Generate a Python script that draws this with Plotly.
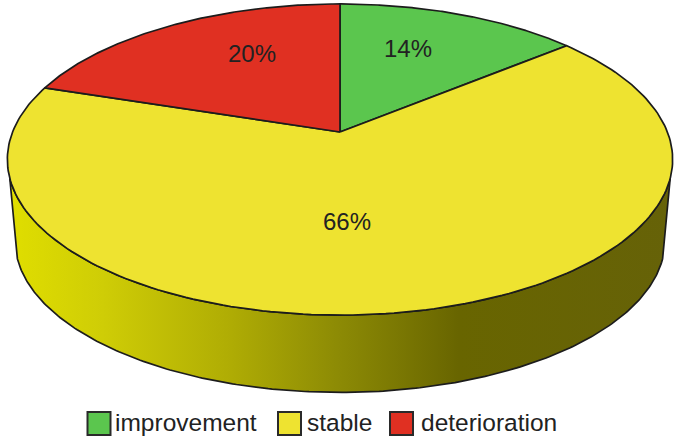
import numpy as np
import plotly.graph_objects as go

categories = ["improvement", "stable", "deterioration"]
values = [14, 66, 20]
slice_colors = ["#5bc64e", "#eee330", "#e03022"]

# side wall shading, left to right
wall_colors = [[0, "#e0de00"], [0.14, "#cfcd06"], [0.33, "#b0ad04"], [0.5, "#8c8a05"],
               [0.68, "#686500"], [1, "#666208"]]

W, H = 685, 437
APEX_X, APEX_Y = 340, 132
RX, RY, PERSP = 327.4, 150.7, 0.177
WALL_DROP, WALL_SCALE = 81.5, 0.977
WALL_ANGLE = 107
LINE = "#1c1c1c"


def rim(deg, scale=1.0, drop=0.0):
    # circle seen in perspective, angle runs clockwise from the top
    t = np.radians(deg)
    d = 1 + PERSP * np.cos(t)
    return (APEX_X + scale * RX * np.sin(t) / d,
            APEX_Y + drop + scale * (-RY) * np.cos(t) / d)


fig = go.Figure()

# side wall
a = np.linspace(WALL_ANGLE, 360 - WALL_ANGLE, 240)
x_top, y_top = rim(a)
x_bot, y_bot = rim(a[::-1], WALL_SCALE, WALL_DROP)
fig.add_trace(go.Scatter(
    x=np.r_[x_top, x_bot, x_top[0]], y=np.r_[y_top, y_bot, y_top[0]],
    mode="lines", fill="toself", line=dict(color=LINE, width=1.7),
    fillgradient=dict(type="horizontal", colorscale=wall_colors),
    hoverinfo="skip", showlegend=False,
))

# top face slices
start = 0
for name, val, col in zip(categories, values, slice_colors):
    end = start + val * 3.6
    a = np.linspace(start, end, 200)
    xs, ys = rim(a)
    fig.add_trace(go.Scatter(
        x=np.r_[APEX_X, xs, APEX_X], y=np.r_[APEX_Y, ys, APEX_Y],
        mode="lines", fill="toself", fillcolor=col, name=name,
        line=dict(color=LINE, width=1.7), hoverinfo="name", showlegend=False,
    ))
    start = end

# percent labels
label_pos = [(408, 48), (347, 221), (252, 53)]
for val, (lx, ly) in zip(values, label_pos):
    fig.add_annotation(x=lx, y=ly, text=f"{val}%", showarrow=False,
                       font=dict(family="Liberation Sans", size=24, color="#222222"))

# hand made legend along the bottom
swatch_x = [99, 289.5, 401.5]
text_x = [113, 305, 419]
for name, col, sx, tx in zip(categories, slice_colors, swatch_x, text_x):
    fig.add_trace(go.Scatter(
        x=[sx], y=[423.5], mode="markers", hoverinfo="skip", showlegend=False,
        marker=dict(symbol="square", size=23, color=col, line=dict(color="#2a2a2a", width=2)),
    ))
    fig.add_annotation(x=tx, y=422.5, text=name, showarrow=False, xanchor="left",
                       font=dict(family="Liberation Sans", size=24.5, color="#222222"))

fig.update_layout(
    width=W, height=H, margin=dict(l=0, r=0, t=0, b=0),
    paper_bgcolor="white", plot_bgcolor="white",
    xaxis=dict(range=[0, W], visible=False, fixedrange=True),
    yaxis=dict(range=[H, 0], visible=False, fixedrange=True),
)

# page has a default 8px body margin, the chart fills the window so drop it
fig.write_html("out.html", config=dict(displayModeBar=False),
               post_script="document.body.style.margin='0';document.body.style.overflow='hidden';")
